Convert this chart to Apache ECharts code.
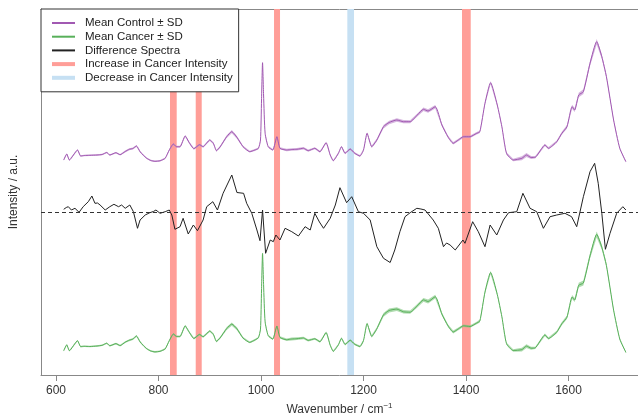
<!DOCTYPE html>
<html>
<head>
<meta charset="utf-8">
<script src="https://cdn.jsdelivr.net/npm/echarts@6/dist/echarts.min.js"></script>
<style>
html,body{margin:0;padding:0;background:#fff;}
#chart{width:638px;height:414px;}
</style>
</head>
<body>
<div id="chart"></div>
<script>
// ---- data (intensities in a.u.) ----
const wavenumbers = [
615,621,626,642,648,655,666,680,690,699,
705,717,725,735,743,750,757,764,770,777,
785,793,803,813,821,829,835,842,852,860,
869,880,887,900,907,913,920,933,943,953,
965,978,988,995,999,1001,1003,1005,1008,1014,
1023,1031,1037,1050,1060,1070,1083,1092,1105,1115,
1127,1135,1141,1151,1157,1164,1174,1183,1193,1200,
1207,1216,1226,1239,1250,1265,1278,1291,1305,1317,
1326,1340,1353,1365,1375,1385,1395,1408,1420,1427,
1437,1448,1461,1470,1479,1492,1509,1518,1527,1535,
1554,1561,1577,1587,1597,1607,1612,1620,1629,1642,
1655,1665,1674,1688,1700,1712];
const controlMean = [
24.5,30.5,24.5,34.5,28.5,29,29.2,29.5,30,32,
29.5,31.8,29.8,33,35.2,36,38.5,32.8,29.5,26.2,
24,23.2,23.7,26.2,34.5,40.5,37.8,37.8,48.5,41.8,
35.8,39.8,37.8,44.5,41.2,33.8,37.5,47.8,52.8,47.2,
37.8,32.8,34.5,36.2,44.5,84.5,121.8,89.5,51.2,37.8,
34.5,47.8,36.2,34.5,35,35.2,36.2,33.8,36.2,32.8,
41.8,29.5,23.8,31.2,37.8,31.2,35.5,31.2,28.5,34.5,
51.2,37.8,44.5,57.8,62,64.5,62.8,62.8,69.5,75.2,
73.5,77.8,59.5,47.5,41.2,44.5,47.8,47.8,51,52.8,
81.2,101.8,79.5,57.8,31.2,24.5,26.2,29.5,27,27.2,
39.5,36.2,42.8,51.2,57.8,77.8,74.5,89.5,92.8,121.2,
142.8,127.8,107.8,64.5,36.2,22.8];
const cancerMean = [
24.3,30.2,24.3,34.3,28.4,28.7,28.5,29.0,29.7,31.8,
29.2,31.4,29.4,32.8,34.8,35.9,39.0,33.2,29.7,26.3,
24,23.1,23.7,26.1,34.3,41.0,38.6,38.5,49.1,42.8,
36.5,40.6,38.2,44.0,40.7,33.6,37.0,46.4,50.9,46.2,
36.9,32.6,35.0,37.3,45.9,85,121.6,90.5,53.1,39.4,
35.9,49.0,37.6,35.3,36,36.3,37,34.6,36.2,33.3,
42.5,29.8,23.7,30.2,36.7,30.6,34.8,30.7,28.5,34.5,
51.4,38.6,46.2,60.1,64.5,65.9,63.2,62.8,69.3,75.1,
73.5,78.3,60.9,49.1,43,46.1,49.2,48.5,51.7,54,
82.9,102.5,80.6,58.3,31.4,24.5,25.4,28.9,26.8,27.1,
40.1,36.5,42.9,51.3,57.8,78,75,89.8,92,119.2,
140.6,127.8,109.5,64.9,36,22.6];
const controlSD = [
0.8,0.8,0.8,0.8,0.8,0.8,0.8,0.8,0.8,0.8,
0.8,0.8,0.8,0.9,1,1,1,0.9,0.8,0.8,
0.8,0.8,0.8,0.8,0.9,1,1,1,1.1,1,
1,1,1,1,1,1,1.1,1.4,1.6,1.4,
1,0.9,0.9,0.9,1,1.2,1.4,1.2,1,0.9,
0.9,1,1,1.2,1.3,1.3,1.2,1.1,1,1,
1,1,1,1,1,1,1,1,1,1,
1.1,1.2,1.4,1.7,1.8,1.8,1.6,1.5,1.6,1.8,
1.8,1.8,1.5,1.3,1.3,1.2,1.2,1.2,1.2,1.3,
1.5,1.6,1.4,1.2,1.1,1.3,2,2,1.5,1.2,
1.2,1.2,1.3,1.5,1.7,2,2,2.3,2.4,2.6,
2.8,2.4,2,1.3,1,0.8];
const cancerSD = [
0.8,0.8,0.8,0.8,0.8,0.8,0.8,0.8,0.8,0.8,
0.8,0.8,0.8,0.9,1,1,1,0.9,0.8,0.8,
0.8,0.8,0.8,0.8,0.9,1,1,1,1.1,1,
1,1,1,1,1,1,1.1,1.5,1.7,1.5,
1,0.9,0.9,0.9,1,1.2,1.4,1.2,1,0.9,
0.9,1,1.1,1.3,1.4,1.4,1.3,1.2,1,1,
1,1,1,1,1,1,1,1,1,1,
1.1,1.3,1.5,1.8,1.9,1.9,1.7,1.6,1.7,1.9,
1.9,1.9,1.6,1.4,1.4,1.3,1.3,1.3,1.3,1.4,
1.6,1.8,1.5,1.3,1.1,1.3,1.8,1.8,1.5,1.2,
1.3,1.3,1.4,1.6,1.8,2.1,2.1,2.4,2.5,2.8,
3,2.5,2,1.3,1,0.8];
const diffWavenumbers = [
615,620,624,630,637,645,653,663,670,676,681,686,696,705,713,722,728,735,744,751,
759,764,774,783,790,795,803,813,821,826,832,842,848,858,868,876,887,894,906,915,
926,943,953,966,972,982,992,998,1003,1009,1018,1024,1029,1037,1047,1060,1073,1086,1096,1105,
1114,1122,1135,1145,1154,1167,1177,1190,1200,1213,1226,1239,1252,1261,1271,1281,1291,1304,1312,1320,
1336,1346,1356,1362,1369,1379,1394,1398,1413,1424,1437,1447,1460,1473,1483,1499,1511,1525,1538,1551,
1564,1577,1593,1606,1616,1629,1642,1651,1658,1665,1672,1681,1694,1706,1712];
const diffValues = [
3.4,5.2,6,2.7,4.4,0.4,6,11,16.7,9.4,9.7,7.7,2.7,6,8.4,6,7.7,4.4,7.7,1,
-15.6,-7.3,-2.3,0,1.2,2.7,-0.6,1,2.7,-2.3,-16.6,-14,-5.6,-21.3,-12.3,-18,-7.3,6,11,2.7,
19.4,37.7,20.2,19.4,9.4,-0.6,-17.3,-28,2.7,-40.6,-27.3,-29,-22.3,-27.3,-15.6,-19,-23.3,-14,-17.3,-0.6,
-9.3,-15.6,-5.6,7.7,25,10,16,1,-0.6,-7.3,-34,-45.6,-49.8,-37.3,-19,-4,0,4.4,3.7,2.7,
-7.3,-15.6,-34,-30.3,-32.3,-37.3,-27.3,-30.6,-9,-19,-34,-12.3,-22.3,-7.3,0,1,19.4,4.4,1,-15.6,
-4,-2.3,-0.6,-4,-14,16,41,49.4,29.4,-0.6,-36.6,-20.6,-0.6,6,2.7];
const tickValues = [600, 800, 1000, 1200, 1400, 1600];
const increaseBands = [[822.4, 835.5], [872.6, 884.3], [1025.4, 1037.1], [1392.2, 1409.2]];
const decreaseBands = [[1168.4, 1181.5]];
// vertical stacking offsets of the three traces
const CONTROL_OFFSET = 190.5;
const DIFF_OFFSET = 162.3;
const CANCER_OFFSET = 0;

const PURPLE = '#A159B2', PURPLE_BAND = 'rgba(190,140,205,0.65)';
const GREEN = '#58B05A', GREEN_BAND = 'rgba(130,200,130,0.65)';
const RED = '#FF9E98', BLUE = '#C6E0F3';

function pairs(xs, ys, off) { return xs.map((x, i) => [x, ys[i] + off]); }

// ± SD band drawn as a polygon through the axis scales
function bandSeries(mean, sd, off, color) {
  return {
    type: 'custom', silent: true, z: 2, clip: true,
    data: [[wavenumbers[0], mean[0] + off]],
    renderItem: function (params, api) {
      const pts = [];
      for (let i = 0; i < wavenumbers.length; i++) pts.push(api.coord([wavenumbers[i], mean[i] + sd[i] + off]));
      for (let i = wavenumbers.length - 1; i >= 0; i--) pts.push(api.coord([wavenumbers[i], mean[i] - sd[i] + off]));
      return {type: 'polygon', shape: {points: pts}, style: {fill: color, stroke: null}};
    }
  };
}

const font = 'Liberation Sans, Arial, Helvetica, sans-serif';
const chart = echarts.init(document.getElementById('chart'), null, {renderer: 'canvas'});
const SM = 0.2;
chart.setOption({
  animation: false,
  backgroundColor: '#fff',
  grid: {left: 41, right: 0, top: 9, bottom: 39, containLabel: false, outerBoundsMode: 'none'},
  legend: {
    left: 41, top: 9, orient: 'vertical',
    padding: [8, 6, 8, 9],
    itemWidth: 23, itemHeight: 12, itemGap: 1.7,
    itemStyle: {opacity: 0, borderWidth: 0},
    backgroundColor: '#fff', borderColor: '#333', borderWidth: 1, borderRadius: 0,
    selectedMode: false,
    textStyle: {fontFamily: font, fontSize: 11.5, color: '#222', padding: [0, 0, 0, 5]},
    data: ['Mean Control ± SD', 'Mean Cancer ± SD', 'Difference Spectra',
           {name: 'Increase in Cancer Intensity', lineStyle: {width: 4, color: RED}},
           {name: 'Decrease in Cancer Intensity', lineStyle: {width: 4, color: BLUE}}]
  },
  xAxis: [{
    type: 'value', min: 570.7, max: 1735.6, position: 'bottom',
    axisLine: {show: true, lineStyle: {color: '#888', width: 1}},
    axisTick: {show: true, length: 6, customValues: tickValues, lineStyle: {color: '#888'}},
    axisLabel: {customValues: tickValues, margin: 10, fontFamily: font, fontSize: 12, color: '#333',
      formatter: v => String(v)},
    splitLine: {show: false},
    name: 'Wavenumber / cm{sup|−1}', nameLocation: 'middle', nameGap: 27,
    nameTextStyle: {fontFamily: font, fontSize: 12, color: '#333',
      rich: {sup: {fontFamily: font, fontSize: 8, color: '#333', verticalAlign: 'bottom', padding: [0, 0, 8, 0]}}}
  }, {
    type: 'value', min: 570.7, max: 1735.6, position: 'top',
    axisLine: {show: true, lineStyle: {color: '#888', width: 1}},
    axisTick: {show: false}, axisLabel: {show: false}, splitLine: {show: false}
  }],
  yAxis: {
    type: 'value', min: 0, max: 366,
    axisLine: {show: true, lineStyle: {color: '#888', width: 1}},
    axisTick: {show: false}, axisLabel: {show: false}, splitLine: {show: false},
    name: 'Intensity / a.u.', nameLocation: 'middle', nameGap: 21, nameRotate: 90,
    nameTextStyle: {fontFamily: font, fontSize: 12, color: '#333'}
  },
  series: [
    {name: 'Increase in Cancer Intensity', type: 'line', data: [], symbol: 'none', z: 1,
     lineStyle: {color: RED, width: 4}, itemStyle: {color: RED},
     markArea: {silent: true, itemStyle: {color: RED, opacity: 1},
       data: increaseBands.map(b => [{xAxis: b[0]}, {xAxis: b[1]}])}},
    {name: 'Decrease in Cancer Intensity', type: 'line', data: [], symbol: 'none', z: 1,
     lineStyle: {color: BLUE, width: 4}, itemStyle: {color: BLUE},
     markArea: {silent: true, itemStyle: {color: BLUE, opacity: 1},
       data: decreaseBands.map(b => [{xAxis: b[0]}, {xAxis: b[1]}])}},
    bandSeries(controlMean, controlSD, CONTROL_OFFSET, PURPLE_BAND),
    bandSeries(cancerMean, cancerSD, CANCER_OFFSET, GREEN_BAND),
    {name: 'Mean Control ± SD', type: 'line', data: pairs(wavenumbers, controlMean, CONTROL_OFFSET),
     symbol: 'none', smooth: SM, lineStyle: {color: PURPLE, width: 1}, itemStyle: {color: PURPLE}, z: 3},
    {name: 'Mean Cancer ± SD', type: 'line', data: pairs(wavenumbers, cancerMean, CANCER_OFFSET),
     symbol: 'none', smooth: SM, lineStyle: {color: GREEN, width: 1}, itemStyle: {color: GREEN}, z: 3},
    {name: 'Difference Spectra', type: 'line', data: pairs(diffWavenumbers, diffValues, DIFF_OFFSET),
     symbol: 'none', smooth: false, lineStyle: {color: '#222', width: 1}, itemStyle: {color: '#222'}, z: 3,
     markLine: {silent: true, symbol: 'none', label: {show: false},
       lineStyle: {color: '#333', type: [4, 3], width: 1},
       data: [{yAxis: DIFF_OFFSET}]}}
  ]
});
</script>
</body>
</html>
